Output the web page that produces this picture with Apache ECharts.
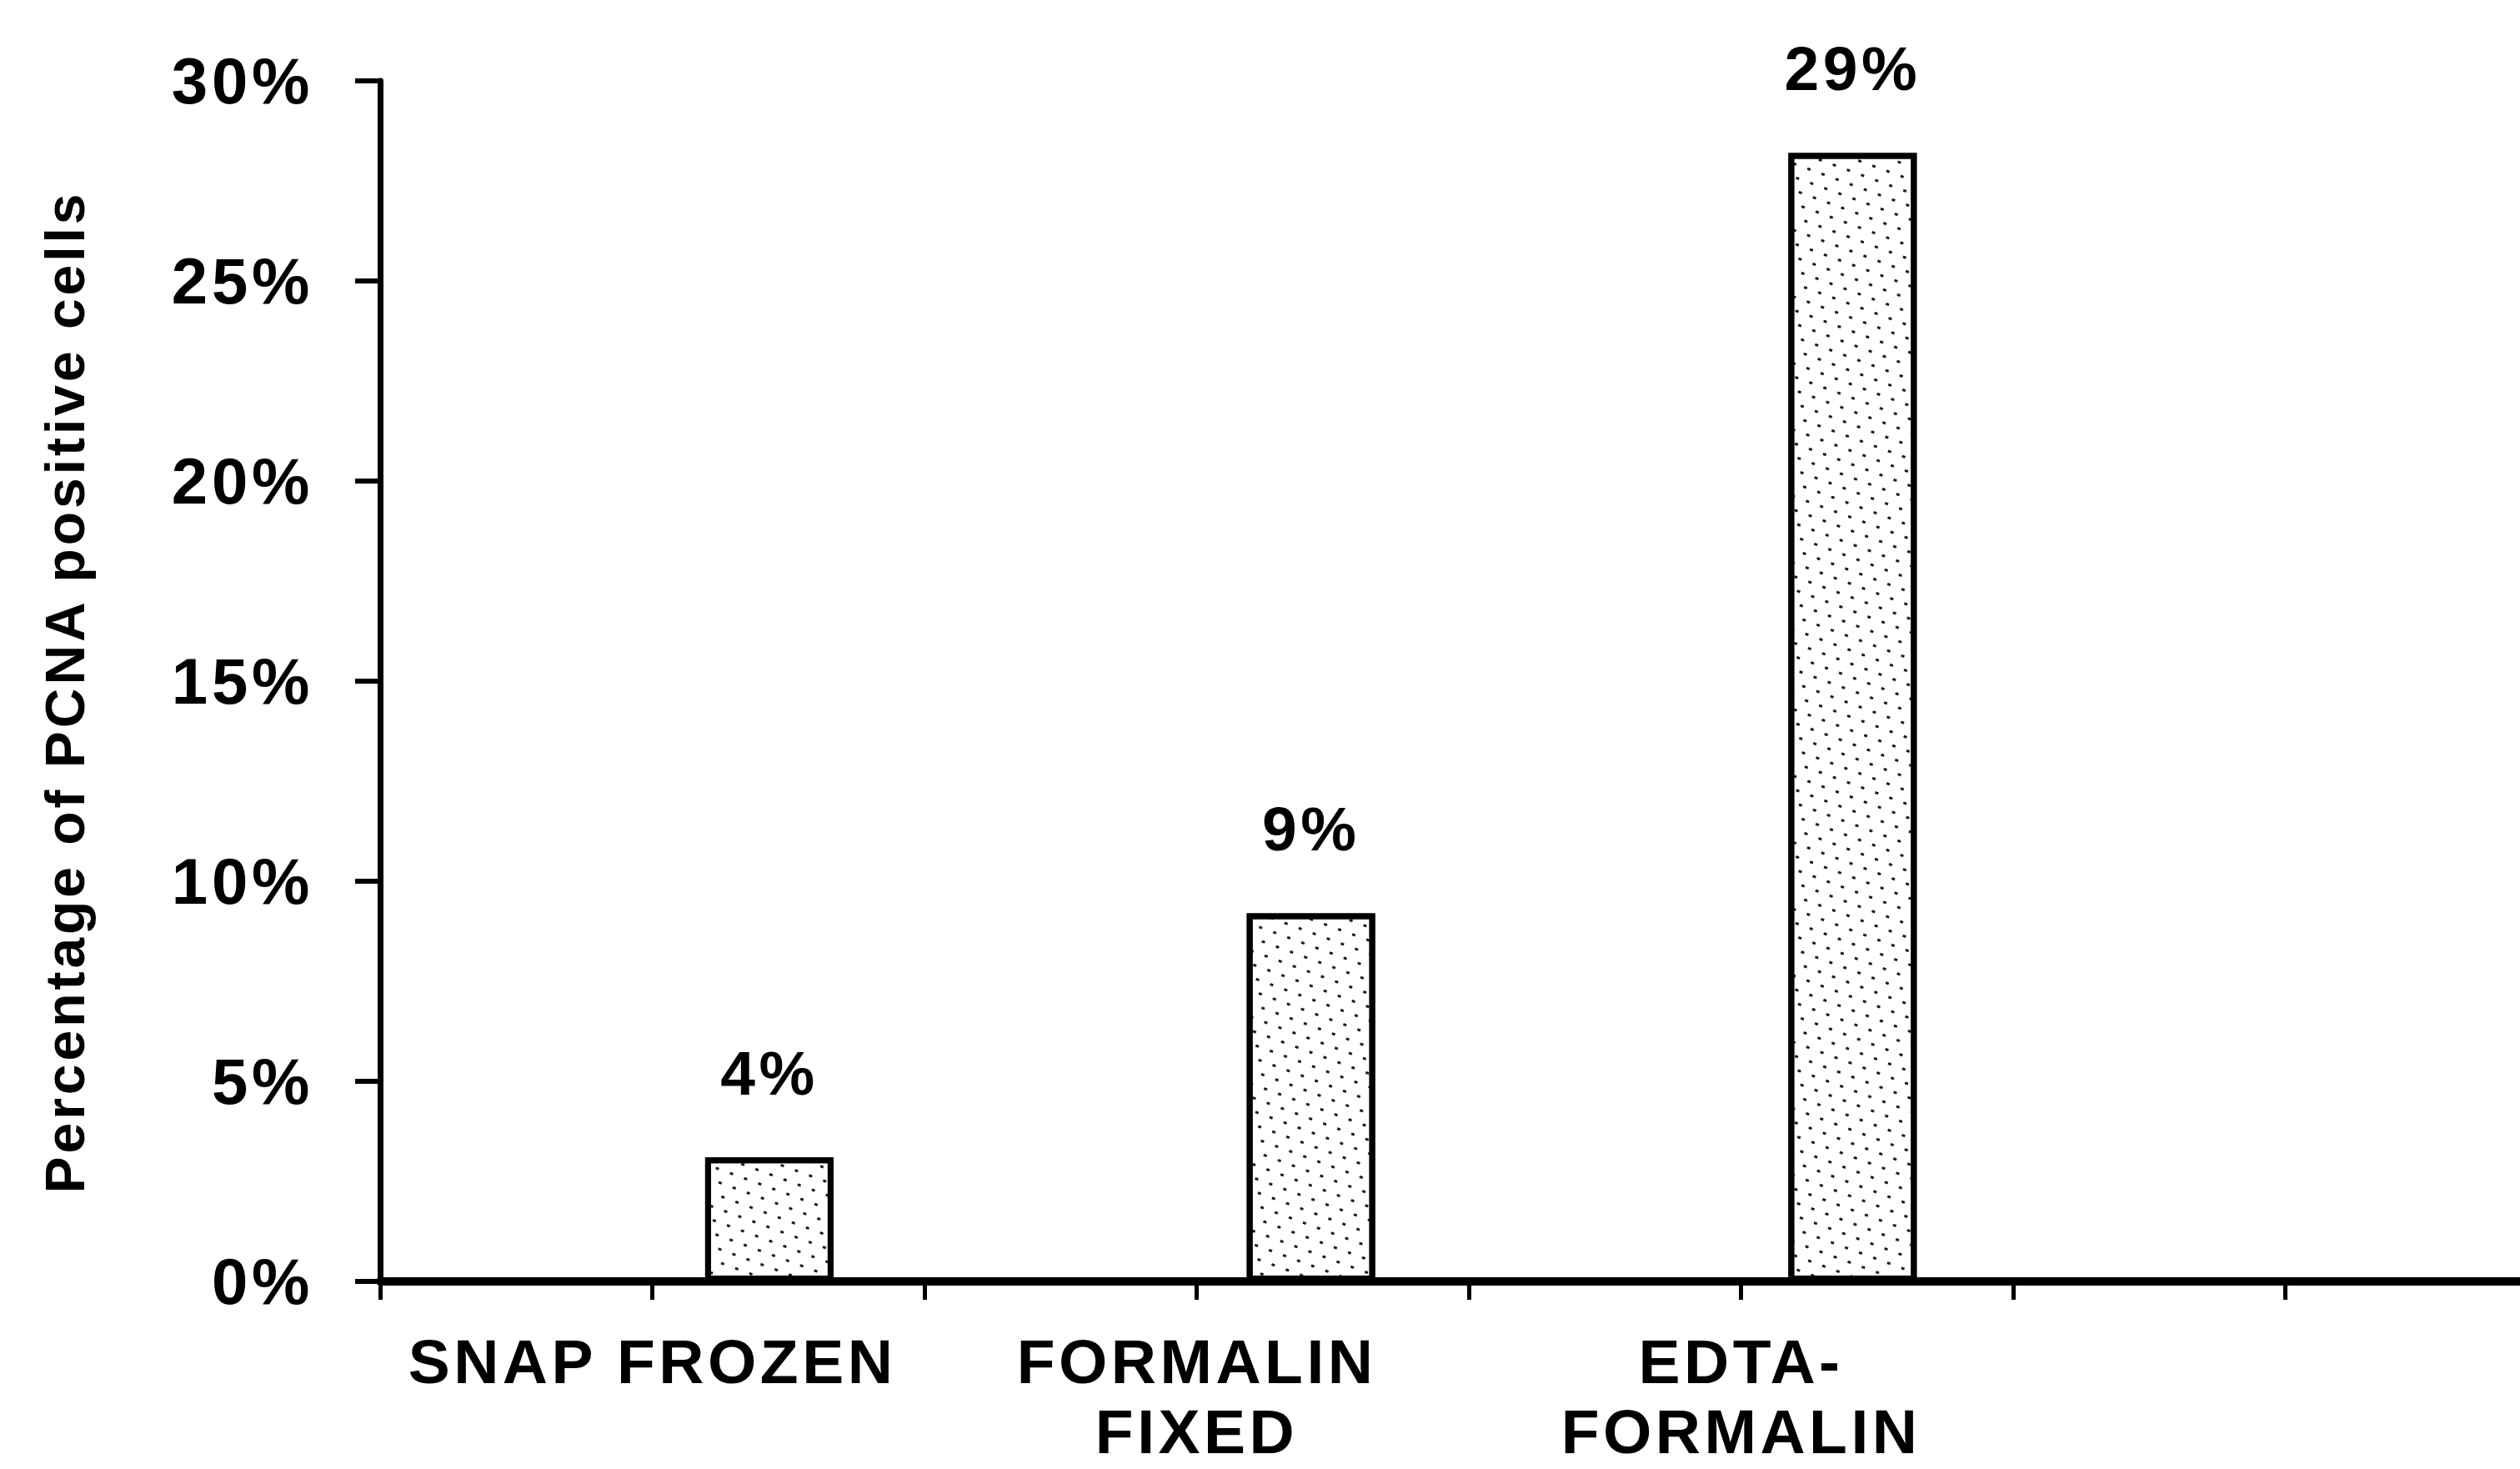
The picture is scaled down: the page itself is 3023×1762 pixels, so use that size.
<!DOCTYPE html>
<html>
<head>
<meta charset="utf-8">
<script src="https://cdn.jsdelivr.net/npm/echarts@6/dist/echarts.min.js"></script>
<style>
html, body { margin: 0; padding: 0; background: #ffffff; }
#chart { width: 3023px; height: 1762px; }
#chart text { letter-spacing: 0.06em; }
</style>
</head>
<body>
<div id="chart"></div>
<script>
// ---- data ----
const categories = ['SNAP FROZEN', 'FORMALIN\nFIXED', 'EDTA-\nFORMALIN'];
const categorySlots = [1, 3, 5];          // x-axis tick where each category name sits
const barSlots = [1.43, 3.42, 5.41];      // x-axis value where each bar sits
const barValues = [3.1, 9.2, 28.2];       // bar heights (%)
const barLabels = ['4%', '9%', '29%'];    // printed values above the bars
const yMin = 0, yMax = 30, yStep = 5;
const xMin = 0, xMax = 8, xStep = 1;
const yAxisTitle = 'Percentage of PCNA positive cells';

const FONT = 'Liberation Sans, Arial, Helvetica, sans-serif';

const chart = echarts.init(document.getElementById('chart'), null, { renderer: 'svg' });

const seriesData = barSlots.map((x, i) => [x, barValues[i]]);

chart.setOption({
  animation: false,
  backgroundColor: '#ffffff',
  grid: {
    left: 456, top: 97, width: 2612, height: 1440,
    containLabel: false,
    outerBoundsMode: 'none'
  },
  xAxis: {
    type: 'value',
    min: xMin, max: xMax, interval: xStep,
    splitLine: { show: false },
    axisLine: { show: true, onZero: false, lineStyle: { color: '#000', width: 10 } },
    axisTick: { show: true, inside: false, length: 22, lineStyle: { color: '#000', width: 5 } },
    axisLabel: {
      show: true,
      margin: 54,
      color: '#000',
      fontFamily: FONT,
      fontWeight: 'bold',
      fontSize: 75,
      lineHeight: 84,
      align: 'center',
      formatter: function (v) {
        const i = categorySlots.indexOf(v);
        return i >= 0 ? categories[i] : '';
      }
    }
  },
  yAxis: {
    type: 'value',
    min: yMin, max: yMax, interval: yStep,
    splitLine: { show: false },
    axisLine: { show: true, lineStyle: { color: '#000', width: 7 } },
    axisTick: { show: true, inside: false, length: 30, lineStyle: { color: '#000', width: 6 } },
    axisLabel: {
      margin: 80,
      color: '#000',
      fontFamily: FONT,
      fontWeight: 'bold',
      fontSize: 78,
      formatter: '{value}%'
    },
    name: yAxisTitle,
    nameLocation: 'middle',
    nameRotate: 90,
    nameGap: 345,
    nameTextStyle: {
      color: '#000',
      fontFamily: FONT,
      fontWeight: 'bold',
      fontSize: 66,
      padding: [0, 26, 0, 0]
    }
  },
  series: [{
    type: 'bar',
    data: seriesData,
    barWidth: 154,
    itemStyle: {
      color: '#ffffff',
      borderColor: '#000',
      borderWidth: 7,
      decal: {
        symbol: 'rect',
        symbolSize: 1,
        color: '#1a1a1a',
        backgroundColor: '#ffffff',
        dashArrayX: [[4, 14], [0, 9, 4, 5]],
        dashArrayY: [3, 12],
        rotation: 0.35
      }
    },
    label: {
      show: true,
      position: 'top',
      distance: 64,
      color: '#000',
      fontFamily: FONT,
      fontWeight: 'bold',
      fontSize: 75,
      formatter: function (p) { return barLabels[p.dataIndex]; }
    }
  }]
});
</script>
</body>
</html>
